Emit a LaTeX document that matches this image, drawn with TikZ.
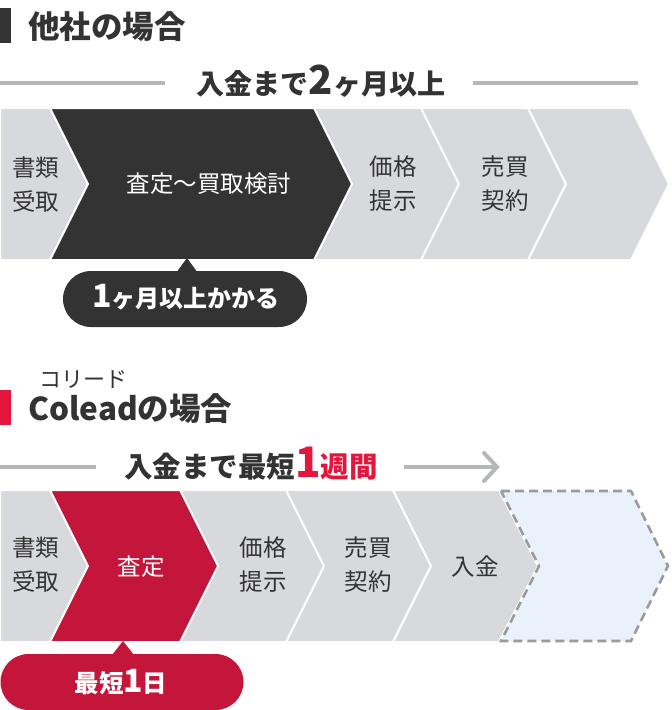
\documentclass[tikz,border=0pt]{standalone}
\usepackage{fontspec}
\newfontfamily\jp{Noto Sans CJK JP}
\definecolor{dark}{HTML}{333333}
\definecolor{lightg}{HTML}{D8D9DC}
\definecolor{lineg}{HTML}{B5B8BB}
\definecolor{redc}{HTML}{C3163A}
\definecolor{redb}{HTML}{E3173E}
\definecolor{paleb}{HTML}{E9F2FA}
\definecolor{dashg}{HTML}{9B9B9B}
\begin{document}
\begin{tikzpicture}[x=1pt,y=-1pt,
  chev/.style={fill=lightg, draw=white, line width=2pt, line join=miter},
  lbl/.style={font=\jp\fontsize{23.5}{34}\selectfont, text=dark, align=center, inner sep=0pt},
  wlbl/.style={font=\jp\fontsize{23.5}{34}\selectfont, text=white, align=center, inner sep=0pt},
  ttl/.style={font=\jp\bfseries\fontsize{31.5}{34}\selectfont, text=dark, anchor=west, inner sep=0pt},
  hline/.style={draw=lineg, line width=4pt},
  pill/.style={rounded corners=28pt, minimum height=56pt, inner sep=0pt},
]
\useasboundingbox (0,0) rectangle (672,710);

% ---------- top section ----------
\fill[dark] (0,8) rectangle (11,43);
\node[ttl] (t1) at (28,27) {他社の場合};

\node[font=\jp\bfseries\fontsize{28}{32}\selectfont, text=dark, inner sep=0pt] (h1) at (321,81)
  {入金まで{\fontsize{40}{40}\selectfont 2}ヶ月以上};
\coordinate (l1a) at (0,83); \coordinate (l1b) at (165,83);
\coordinate (l1c) at (473,83); \coordinate (l1d) at (638,83);
\draw[hline] (l1a) -- (l1b);
\draw[hline] (l1c) -- (l1d);

% chevrons row 1
\path[chev] (0,108) -- (50,108) -- (88,184) -- (50,260) -- (0,260) -- cycle;
\path[chev] (314,108) -- (421,108) -- (459,184) -- (421,260) -- (314,260) -- (352,184) -- cycle;
\path[chev] (421,108) -- (528,108) -- (566,184) -- (528,260) -- (421,260) -- (459,184) -- cycle;
\path[chev] (528,108) -- (631,108) -- (669,184) -- (631,260) -- (528,260) -- (566,184) -- cycle;
\path[chev, fill=dark] (50,108) -- (314,108) -- (352,184) -- (314,260) -- (50,260) -- (88,184) -- cycle;

\node[lbl] (a1) at (36,185) {書類\\受取};
\node[wlbl] (a2) at (209,184) {査定〜買取検討};
\node[lbl] (a3) at (393,184) {価格\\提示};
\node[lbl] (a4) at (505,184) {売買\\契約};

% callout 1
\fill[dark] (176,273) -- (187,258) -- (198,273) -- cycle;
\node[pill, fill=dark, minimum width=244pt] (c1) at (185,299) {};
\node[font=\jp\bfseries\fontsize{24}{28}\selectfont, text=white, inner sep=0pt] (c1t) at (186,297)
  {{\fontsize{32}{32}\selectfont 1}ヶ月以上かかる};

% ---------- bottom section ----------
\node[font=\jp\fontsize{22}{24}\selectfont, text=dark, inner sep=0pt] (rb) at (83,379) {コリード};
\fill[redb] (0,390) rectangle (11,425);
\node[ttl] (t2) at (28,409) {Coleadの場合};

\node[font=\jp\bfseries\fontsize{28.5}{32}\selectfont, text=dark, inner sep=0pt] (h2) at (251,464)
  {入金まで最短{\color{redb}\fontsize{42}{42}\selectfont 1}{\color{redb}週間}};
\coordinate (l2a) at (0,467); \coordinate (l2b) at (96,467);
\coordinate (l2c) at (404,467); \coordinate (l2d) at (497,467);
\coordinate (ar1) at (484,453); \coordinate (ar2) at (484,481);
\draw[hline] (l2a) -- (l2b);
\draw[hline] (l2c) -- (l2d);
\draw[hline, line cap=round, line join=miter] (ar1) -- (l2d) -- (ar2);

% chevrons row 2
\path[chev] (0,490) -- (50,490) -- (88,566) -- (50,642) -- (0,642) -- cycle;
\path[chev] (180,490) -- (286,490) -- (324,566) -- (286,642) -- (180,642) -- (218,566) -- cycle;
\path[chev] (286,490) -- (393,490) -- (431,566) -- (393,642) -- (286,642) -- (324,566) -- cycle;
\path[chev] (393,490) -- (499,490) -- (538,566) -- (499,642) -- (393,642) -- (431,566) -- cycle;
\path[chev, fill=redc] (50,490) -- (180,490) -- (218,566) -- (180,642) -- (50,642) -- (88,566) -- cycle;
\path[fill=paleb, draw=dashg, line width=2.6pt, dash pattern=on 9pt off 5pt, line join=miter]
  (501,491) -- (631,491) -- (668,566) -- (631,641) -- (501,641) -- (539,566) -- cycle;

\node[lbl] (b1) at (36,565) {書類\\受取};
\node[wlbl] (b2) at (141,567) {査定};
\node[lbl] (b3) at (263,565) {価格\\提示};
\node[lbl] (b4) at (368,565) {売買\\契約};
\node[lbl] (b5) at (475,567) {入金};

% callout 2
\fill[redc] (112,655) -- (123,641) -- (134,655) -- cycle;
\node[pill, fill=redc, minimum width=243pt] (c2) at (122,682) {};
\node[font=\jp\bfseries\fontsize{24.5}{28}\selectfont, text=white, inner sep=0pt] (c2t) at (121,682)
  {最短{\fontsize{32}{32}\selectfont 1}日};
\end{tikzpicture}
\end{document}
